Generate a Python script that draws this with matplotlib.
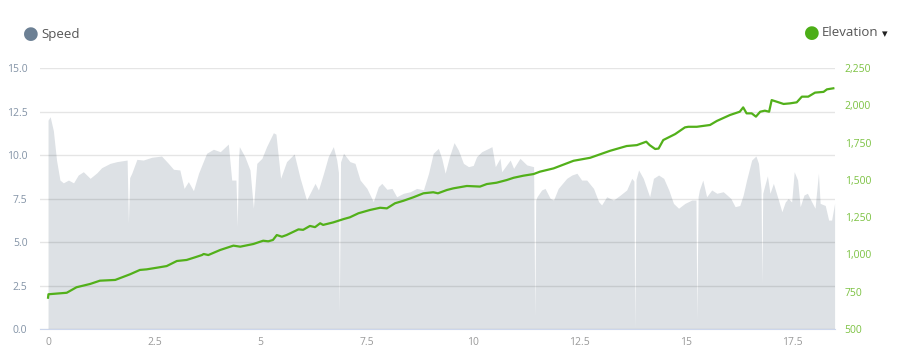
import matplotlib
matplotlib.use("Agg")
import matplotlib.pyplot as plt
from matplotlib.ticker import FuncFormatter

plt.rcParams['font.family'] = ['Open Sans', 'DejaVu Sans']

# Speed profile (km along route -> speed)
speed_km = [
    0.0, 0.05, 0.125, 0.2, 0.28, 0.36, 0.48, 0.6, 0.71, 0.83,
    0.99, 1.15, 1.26, 1.46, 1.62, 1.86, 1.89, 1.92, 1.97, 2.09,
    2.24, 2.44, 2.67, 2.83, 2.95, 3.1, 3.2, 3.3, 3.42, 3.54,
    3.65, 3.73, 3.89, 4.05, 4.24, 4.32, 4.42, 4.45, 4.48, 4.5,
    4.63, 4.75, 4.83, 4.91, 5.03, 5.14, 5.3, 5.36, 5.47, 5.61,
    5.79, 5.93, 6.08, 6.28, 6.36, 6.48, 6.59, 6.71, 6.79, 6.83,
    6.85, 6.88, 6.95, 7.1, 7.22, 7.34, 7.5, 7.65, 7.77, 7.85,
    7.97, 8.09, 8.2, 8.36, 8.52, 8.67, 8.83, 8.95, 9.06, 9.18,
    9.26, 9.34, 9.44, 9.55, 9.65, 9.77, 9.89, 10.0, 10.08, 10.2,
    10.36, 10.44, 10.52, 10.63, 10.67, 10.87, 10.95, 11.1, 11.26, 11.42,
    11.45, 11.47, 11.5, 11.61, 11.69, 11.81, 11.89, 12.0, 12.2, 12.32,
    12.44, 12.55, 12.67, 12.83, 12.95, 13.02, 13.14, 13.3, 13.46, 13.61,
    13.73, 13.78, 13.8, 13.83, 13.89, 14.0, 14.15, 14.24, 14.36, 14.48,
    14.6, 14.71, 14.83, 14.98, 15.14, 15.24, 15.26, 15.29, 15.32, 15.4,
    15.49, 15.61, 15.73, 15.88, 15.97, 16.06, 16.16, 16.27, 16.35, 16.43,
    16.55, 16.65, 16.71, 16.77, 16.79, 16.81, 16.85, 16.92, 16.98, 17.06,
    17.18, 17.26, 17.34, 17.41, 17.49, 17.55, 17.63, 17.69, 17.78, 17.86,
    17.94, 18.04, 18.12, 18.16, 18.28, 18.36, 18.43, 18.5,
]
speed = [
    12.0, 12.2, 11.4, 9.7, 8.56, 8.4, 8.56, 8.4, 8.85, 9.04,
    8.66, 8.98, 9.27, 9.52, 9.62, 9.71, 6.1, 8.7, 8.96, 9.75,
    9.71, 9.87, 9.94, 9.52, 9.18, 9.14, 8.08, 8.47, 7.95, 8.95,
    9.62, 10.1, 10.33, 10.19, 10.63, 8.56, 8.56, 5.88, 9.8, 10.48,
    9.9, 9.14, 6.94, 9.52, 9.81, 10.48, 11.28, 11.2, 8.66, 9.62,
    10.06, 8.66, 7.41, 8.37, 7.99, 8.95, 9.9, 10.48, 9.71, 9.0,
    0.9, 9.6, 10.1, 9.62, 9.52, 8.56, 8.08, 7.32, 8.18, 8.37,
    8.03, 8.08, 7.6, 7.8, 7.89, 8.08, 8.0, 8.95, 10.1, 10.38,
    9.81, 8.95, 9.9, 10.71, 10.29, 9.52, 9.33, 9.4, 9.9, 10.19,
    10.38, 10.48, 9.33, 9.81, 9.04, 9.71, 9.23, 9.81, 9.43, 9.33,
    0.7, 7.4, 7.6, 7.99, 8.08, 7.51, 7.41, 8.08, 8.66, 8.85,
    8.95, 8.56, 8.56, 8.08, 7.32, 7.13, 7.6, 7.41, 7.7, 7.99,
    8.66, 8.5, 0.0, 8.6, 9.14, 8.66, 7.6, 8.66, 8.85, 8.66,
    7.99, 7.22, 6.94, 7.22, 7.41, 7.41, 0.5, 7.6, 7.99, 8.56,
    7.6, 7.99, 7.8, 7.89, 7.7, 7.5, 7.03, 7.1, 7.7, 8.56,
    9.71, 9.94, 9.52, 8.0, 2.6, 7.8, 8.18, 8.8, 7.8, 8.37,
    7.41, 6.74, 7.3, 7.5, 7.3, 9.04, 8.56, 7.03, 7.7, 7.8,
    7.41, 6.94, 8.95, 7.22, 7.1, 6.26, 6.26, 7.22,
]

# Elevation profile
elev_km = [
    0.0, 0.01, 0.44, 0.67, 0.99, 1.22, 1.58, 1.93, 2.16, 2.32,
    2.56, 2.79, 3.03, 3.26, 3.46, 3.62, 3.66, 3.77, 4.05, 4.36,
    4.52, 4.83, 5.06, 5.18, 5.29, 5.38, 5.5, 5.61, 5.89, 6.0,
    6.16, 6.28, 6.4, 6.47, 6.71, 6.95, 7.1, 7.3, 7.57, 7.81,
    7.97, 8.16, 8.36, 8.59, 8.83, 9.06, 9.17, 9.38, 9.53, 9.85,
    10.16, 10.32, 10.55, 10.79, 10.95, 11.18, 11.42, 11.57, 11.89, 12.24,
    12.36, 12.75, 13.22, 13.61, 13.85, 14.07, 14.15, 14.28, 14.36, 14.47,
    14.75, 14.98, 15.06, 15.26, 15.57, 15.73, 16.04, 16.27, 16.35, 16.43,
    16.55, 16.65, 16.75, 16.86, 16.96, 17.02, 17.14, 17.3, 17.45, 17.61,
    17.73, 17.88, 18.04, 18.24, 18.32, 18.47,
]
elevation = [
    710, 733, 743, 780, 802, 824, 829, 867, 896, 900,
    911, 922, 956, 963, 981, 996, 1003, 996, 1030, 1059,
    1052, 1070, 1092, 1088, 1097, 1130, 1119, 1130, 1168, 1165,
    1191, 1183, 1209, 1198, 1215, 1237, 1249, 1276, 1298, 1313,
    1309, 1343, 1360, 1383, 1410, 1417, 1410, 1432, 1443, 1459,
    1455, 1472, 1481, 1499, 1514, 1528, 1539, 1555, 1577, 1615,
    1628, 1648, 1695, 1727, 1733, 1756, 1733, 1707, 1710, 1767,
    1807, 1852, 1856, 1856, 1868, 1895, 1935, 1957, 1986, 1946,
    1946, 1924, 1957, 1964, 1957, 2035, 2024, 2009, 2013, 2020,
    2058, 2058, 2085, 2090, 2107, 2114,
]

speed_ticks = [0, 2.5, 5, 7.5, 10, 12.5, 15]
elev_ticks = [500, 750, 1000, 1250, 1500, 1750, 2000, 2250]
km_ticks = [0, 2.5, 5, 7.5, 10, 12.5, 15, 17.5]

fig = plt.figure(figsize=(9, 3.58), dpi=100)
ax = fig.add_axes([0.0444, 0.081, 0.8834, 0.729])

ax.fill_between(speed_km, speed, 0, color="#dde1e5", linewidth=0, zorder=1)
ax.set_ylim(0, 15)
ax.set_xlim(-0.19, 18.51)
ax.set_yticks(speed_ticks)
ax.yaxis.set_major_formatter(FuncFormatter(lambda v, p: f"{v:.1f}"))
ax.set_xticks(km_ticks)
ax.xaxis.set_major_formatter(FuncFormatter(lambda v, p: f"{v:g}"))
ax.set_axisbelow(False)
ax.grid(axis="y", color="black", alpha=0.1, linewidth=1, zorder=2)
for s in ["top", "right", "left"]:
    ax.spines[s].set_visible(False)
ax.spines["bottom"].set_color("#ccd6eb")
ax.spines["bottom"].set_zorder(3)
ax.tick_params(axis="y", length=0, pad=9, labelsize=7.5, labelcolor="#8393a6")
ax.tick_params(axis="x", length=0, pad=6, labelsize=7.5, labelcolor="#9a9a9a")

ax2 = ax.twinx()
ax2.plot(elev_km, elevation, color="#52b01a", linewidth=1.6, zorder=4)
ax2.set_ylim(500, 2250)
ax2.set_yticks(elev_ticks)
ax2.yaxis.set_major_formatter(FuncFormatter(lambda v, p: f"{v:,.0f}"))
ax2.tick_params(axis="y", length=0, pad=7, labelsize=7.5, labelcolor="#7cc242")
for s in ax2.spines.values():
    s.set_visible(False)

# legend-like labels at the top
fig.text(0.0344, 0.905, "\u25CF", color="#6c8094", fontsize=13, ha="center", va="center",
         family="DejaVu Sans")
fig.text(0.046, 0.905, "Speed", color="#555555", fontsize=9.5, ha="left", va="center")
fig.text(0.902, 0.908, "\u25CF", color="#4cae17", fontsize=13, ha="center", va="center",
         family="DejaVu Sans")
fig.text(0.913, 0.908, "Elevation", color="#555555", fontsize=9.5, ha="left", va="center")
fig.text(0.983, 0.905, "\u25BE", color="#222222", fontsize=8, ha="center", va="center",
         family="DejaVu Sans")

fig.savefig("out.png", dpi=100)
